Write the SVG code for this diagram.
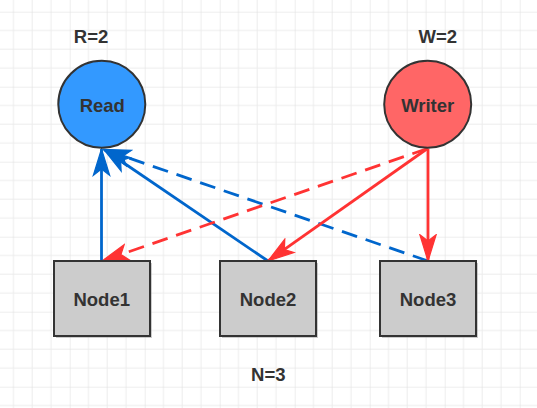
<svg xmlns="http://www.w3.org/2000/svg" width="537" height="408" viewBox="0 0 537 408">
  <defs>
    <pattern id="grid" patternUnits="userSpaceOnUse" x="69.7" y="11.7" width="75" height="75">
      <path d="M18.75 0V75M37.5 0V75M56.25 0V75M0 18.75H75M0 37.5H75M0 56.25H75" stroke="#ececec" stroke-width="1" fill="none"/>
      <path d="M0 0V75M0 0H75" stroke="#dedede" stroke-width="1" fill="none"/>
    </pattern>
    <marker id="arrBlue" markerUnits="userSpaceOnUse" markerWidth="30" markerHeight="20" viewBox="-22 -8 24 16" refX="0" refY="0" orient="auto">
      <path d="M0 0L-21 -6.5L-16 0L-21 6.5Z" fill="#0066CC" stroke="#0066CC" stroke-width="1"/>
    </marker>
    <marker id="arrRed" markerUnits="userSpaceOnUse" markerWidth="30" markerHeight="20" viewBox="-22 -8 24 16" refX="0" refY="0" orient="auto">
      <path d="M0 0L-21 -6.5L-16 0L-21 6.5Z" fill="#FF3333" stroke="#FF3333" stroke-width="1"/>
    </marker>
  </defs>
  <style>
    text { font-family: "Liberation Sans", Arial, sans-serif; font-weight: bold; font-size: 18.5px; fill: #333333; text-anchor: middle; }
    .circle { stroke: #333333; stroke-width: 2; }
    .node { fill: #CCCCCC; stroke: #333333; stroke-width: 2; }
    .shadow { fill: #999999; opacity: 0.5; }
    .blue { stroke: #0066CC; stroke-width: 2.8; fill: none; marker-end: url(#arrBlue); }
    .red { stroke: #FF3333; stroke-width: 2.8; fill: none; marker-end: url(#arrRed); }
    .dash { stroke-dasharray: 16 9; }
  </style>
  <rect width="537" height="408" fill="#ffffff"/>
  <rect width="537" height="408" fill="url(#grid)"/>

  <g id="labels">
    <text x="91" y="43.3">R=2</text>
    <text x="437.8" y="43">W=2</text>
    <text x="268.3" y="380.7">N=3</text>
  </g>

  <g id="connectors">
    <line class="blue" x1="101.5" y1="261" x2="101.5" y2="149"/>
    <line class="blue" x1="268" y1="261" x2="104" y2="149.5"/>
    <line class="blue dash" x1="428" y1="261" x2="104" y2="149.5"/>
    <line class="red dash" x1="427.5" y1="148.5" x2="102" y2="261"/>
    <line class="red" x1="427.5" y1="148.5" x2="268" y2="261"/>
    <line class="red" x1="428" y1="148.5" x2="428" y2="261"/>
  </g>

  <g id="read">
    <circle class="circle" cx="101.8" cy="104.3" r="43.5" fill="#3399FF"/>
    <text x="102.3" y="111.5">Read</text>
  </g>
  <g id="writer">
    <circle class="circle" cx="427.7" cy="104.3" r="43.5" fill="#FF6666"/>
    <text x="427.7" y="111.5">Writer</text>
  </g>

  <g id="node1">
    <rect class="shadow" x="56" y="263" width="96" height="75"/>
    <rect class="node" x="54" y="261" width="96" height="75"/>
    <text x="101.7" y="305.5">Node1</text>
  </g>
  <g id="node2">
    <rect class="shadow" x="222" y="263" width="96" height="75"/>
    <rect class="node" x="220" y="261" width="96" height="75"/>
    <text x="268" y="305.5">Node2</text>
  </g>
  <g id="node3">
    <rect class="shadow" x="382" y="263" width="96" height="75"/>
    <rect class="node" x="380" y="261" width="96" height="75"/>
    <text x="428" y="305.5">Node3</text>
  </g>
</svg>
